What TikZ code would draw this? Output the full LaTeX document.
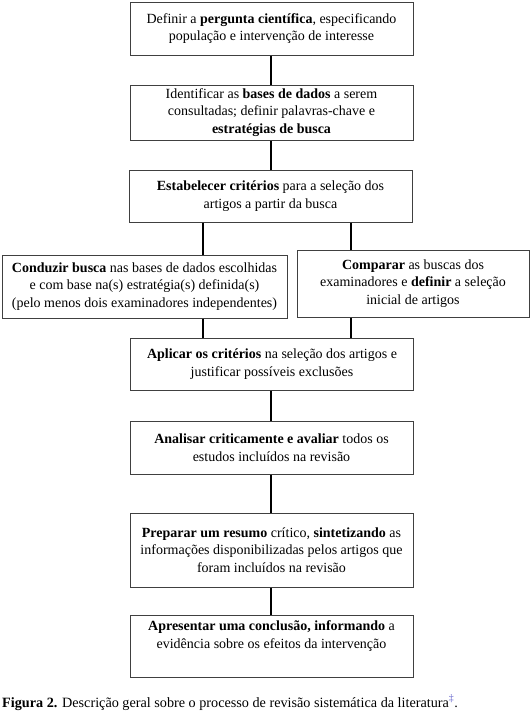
\documentclass[tikz,border=0pt]{standalone}
\usepackage{fontspec}
\setmainfont{Liberation Serif}
\usepackage{xcolor}
\usetikzlibrary{positioning}
\definecolor{framex}{HTML}{404040}
\definecolor{refx}{HTML}{5A5AC8}
\tikzset{
  box/.style={draw=framex,line width=1pt,align=center,inner sep=2pt,
    font=\fontsize{14}{17.5}\selectfont},
  mainbox/.style={box,minimum width=283pt},
  ln/.style={line width=2pt,black}
}

\begin{document}
\begin{tikzpicture}[x=1pt,y=-1pt]
\useasboundingbox (0,0) rectangle (531,715);
% main column
\node[mainbox,minimum height=53pt] (perg) at (271.5,28.5) {Definir a \textbf{pergunta científica}, especificando\\população e intervenção de interesse};
\node[mainbox,minimum height=55pt] (bases) at (271.5,112.5) {Identificar as \textbf{bases de dados} a serem\\consultadas; definir palavras-chave e\\\textbf{estratégias de busca}};
\node[mainbox,minimum height=52pt] (crit) at (270.5,196) {\textbf{Estabelecer critérios} para a seleção dos\\artigos a partir da busca};
% two branches
\node[box,minimum width=285pt,minimum height=63pt] (busca) at (144.5,286.5) {\textbf{Conduzir busca} nas bases de dados escolhidas\\e com base na(s) estratégia(s) definida(s)\\(pelo menos dois examinadores independentes)};
\node[box,minimum width=232pt,minimum height=67pt] (comp) at (413,283.5) {\textbf{Comparar} as buscas dos\\examinadores e \textbf{definir} a seleção\\inicial de artigos};
\node[mainbox,minimum height=52pt] (aplic) at (272,364) {\textbf{Aplicar os critérios} na seleção dos artigos e\\justificar possíveis exclusões};
\node[mainbox,minimum height=53pt] (anal) at (271.5,447.5) {\textbf{Analisar criticamente e avaliar} todos os\\estudos incluídos na revisão};
\node[mainbox,minimum height=74pt] (resumo) at (271.5,550) {\textbf{Preparar um resumo} crítico, \textbf{sintetizando} as\\informações disponibilizadas pelos artigos que\\foram incluídos na revisão};
\node[mainbox,minimum height=62pt] (concl) at (271.5,646) {\parbox[c][50pt][t]{279pt}{\centering\textbf{Apresentar uma conclusão, informando} a\\evidência sobre os efeitos da intervenção}};
% connectors
\coordinate (xm) at (271,0);
\coordinate (xl) at (203,0);
\coordinate (xr) at (351,0);
\draw[ln] (perg.south -| xm) -- (bases.north -| xm);
\draw[ln] (bases.south -| xm) -- (crit.north -| xm);
\draw[ln] (crit.south -| xl) -- (busca.north -| xl);
\draw[ln] (crit.south -| xr) -- (comp.north -| xr);
\draw[ln] (busca.south -| xl) -- (aplic.north -| xl);
\draw[ln] (comp.south -| xr) -- (aplic.north -| xr);
\draw[ln] (aplic.south -| xm) -- (anal.north -| xm);
\draw[ln] (anal.south -| xm) -- (resumo.north -| xm);
\draw[ln] (resumo.south -| xm) -- (concl.north -| xm);
% caption
\node[anchor=base west,inner sep=0pt,font=\fontsize{14.2}{16}\selectfont] (cap) at (2,707) {\textbf{Figura 2.} Descrição geral sobre o processo de revisão sistemática da literatura\textsuperscript{\textcolor{refx}{‡}}.};
\end{tikzpicture}
\end{document}
